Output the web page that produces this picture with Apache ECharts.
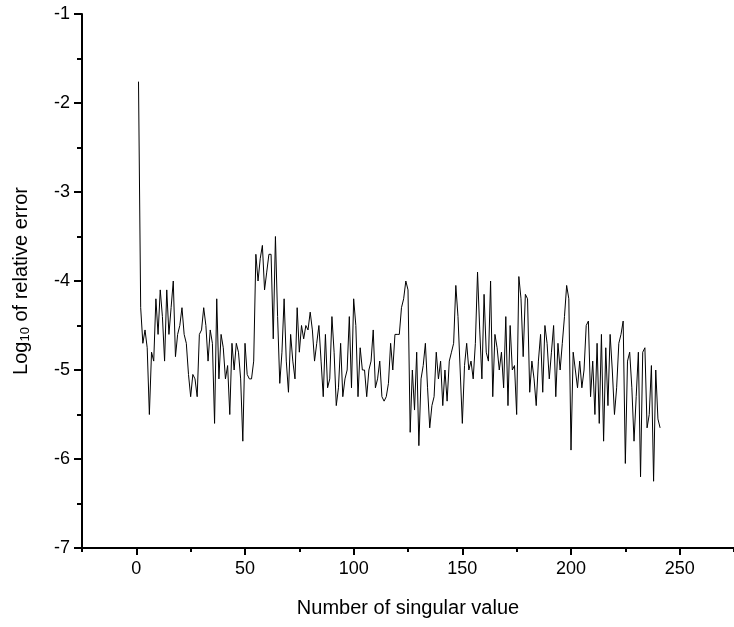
<!DOCTYPE html>
<html>
<head>
<meta charset="utf-8">
<script src="https://cdn.jsdelivr.net/npm/echarts@6/dist/echarts.min.js"></script>
<style>
  html, body { margin: 0; padding: 0; background: #fff; }
  #main { width: 734px; height: 627px; }
</style>
</head>
<body>
<div id="main"></div>
<script>
// log10 of relative error for singular values 1..241
var errors = [
  -1.76, -4.3, -4.7, -4.55, -4.75, -5.5, -4.8, -4.9, -4.2, -4.6,
  -4.1, -4.4, -4.9, -4.1, -4.6, -4.3, -4.0, -4.85, -4.6, -4.5,
  -4.3, -4.6, -4.7, -5.05, -5.3, -5.05, -5.1, -5.3, -4.6, -4.55,
  -4.3, -4.5, -4.9, -4.55, -4.7, -5.6, -4.2, -5.1, -4.6, -4.75,
  -5.1, -4.95, -5.5, -4.7, -5.0, -4.7, -4.8, -5.1, -5.8, -4.7,
  -5.05, -5.1, -5.1, -4.9, -3.7, -4.0, -3.75, -3.6, -4.1, -3.9,
  -3.7, -3.7, -4.65, -3.5, -4.4, -5.15, -4.8, -4.2, -4.9, -5.25,
  -4.6, -4.9, -5.1, -4.3, -4.8, -4.5, -4.65, -4.5, -4.55, -4.35,
  -4.55, -4.9, -4.7, -4.5, -4.9, -5.3, -4.6, -5.2, -5.1, -4.4,
  -4.8, -5.4, -5.2, -4.7, -5.3, -5.1, -5.0, -4.4, -5.2, -4.2,
  -4.5, -5.3, -4.75, -5.0, -5.0, -5.3, -5.0, -4.9, -4.55, -5.2,
  -5.1, -4.9, -5.3, -5.35, -5.3, -5.15, -4.7, -5.0, -4.6, -4.6,
  -4.6, -4.3, -4.2, -4.0, -4.1, -5.7, -5.0, -5.45, -4.8, -5.85,
  -5.1, -4.95, -4.7, -5.2, -5.65, -5.4, -5.3, -4.8, -5.1, -4.9,
  -5.4, -5.0, -5.35, -4.9, -4.8, -4.7, -4.05, -4.4, -5.0, -5.6,
  -4.95, -4.7, -5.0, -4.9, -5.1, -4.7, -3.9, -4.55, -5.1, -4.15,
  -4.8, -4.9, -4.0, -5.3, -4.6, -4.75, -5.0, -4.8, -5.2, -4.4,
  -5.4, -4.5, -5.0, -4.95, -5.5, -3.95, -4.2, -4.85, -4.15, -4.2,
  -5.25, -4.9, -5.1, -5.4, -4.9, -4.6, -5.25, -4.5, -4.7, -5.1,
  -4.8, -4.5, -5.3, -4.7, -5.0, -4.7, -4.4, -4.05, -4.2, -5.9,
  -4.8, -5.0, -5.2, -4.9, -5.2, -5.0, -4.5, -4.45, -5.3, -4.9,
  -5.5, -4.7, -5.6, -4.6, -5.8, -4.75, -5.4, -4.6, -5.0, -5.5,
  -5.2, -4.7, -4.6, -4.45, -6.05, -4.9, -4.8, -5.2, -5.8, -5.3,
  -4.8, -6.2, -4.8, -4.75, -5.65, -5.5, -4.95, -6.25, -5.0, -5.55,
  -5.65
];
var xTicks = [0, 50, 100, 150, 200, 250];

var points = errors.map(function (v, i) { return [i + 1, v]; });

var chart = echarts.init(document.getElementById('main'));
var font = 'Liberation Sans, Arial, sans-serif';

var option = {
  animation: false,
  grid: { left: 82, top: 14, right: 0, bottom: 79 },
  xAxis: [
    {
      type: 'value', min: -25, max: 275, interval: 25,
      axisLine: { onZero: false, lineStyle: { color: '#000', width: 2 } },
      axisTick: { length: 4, lineStyle: { color: '#000', width: 2 } },
      axisLabel: { show: false },
      splitLine: { show: false }
    },
    {
      type: 'value', min: -25, max: 275, position: 'bottom',
      axisLine: { show: false, onZero: false },
      axisTick: { customValues: xTicks, length: 7, lineStyle: { color: '#000', width: 2 } },
      axisLabel: {
        customValues: xTicks, color: '#000', fontSize: 18, fontFamily: font, margin: 12
      },
      splitLine: { show: false },
      name: 'Number of singular value',
      nameLocation: 'middle', nameGap: 50,
      nameTextStyle: { color: '#000', fontSize: 20, fontFamily: font }
    }
  ],
  yAxis: {
    type: 'value', min: -7, max: -1, interval: 1,
    axisLine: { show: true, onZero: false, lineStyle: { color: '#000', width: 2 } },
    axisTick: { show: true, length: 8, lineStyle: { color: '#000', width: 2 } },
    minorTick: { show: true, splitNumber: 2, length: 5, lineStyle: { color: '#000', width: 2 } },
    axisLabel: { color: '#000', fontSize: 18, fontFamily: font, margin: 12 },
    splitLine: { show: false },
    name: '{a|Log}{s|10}{a| of relative error}',
    nameLocation: 'middle', nameGap: 50, nameRotate: 90,
    nameTextStyle: {
      rich: {
        a: { color: '#000', fontSize: 20, fontFamily: font },
        s: { color: '#000', fontSize: 13, fontFamily: font, verticalAlign: 'bottom', padding: [8, 0, 0, 0] }
      }
    }
  },
  series: [{
    type: 'line',
    xAxisIndex: 0,
    data: points,
    showSymbol: false,
    symbol: 'none',
    lineStyle: { color: '#000', width: 1 }
  }]
};

chart.setOption(option);
</script>
</body>
</html>
